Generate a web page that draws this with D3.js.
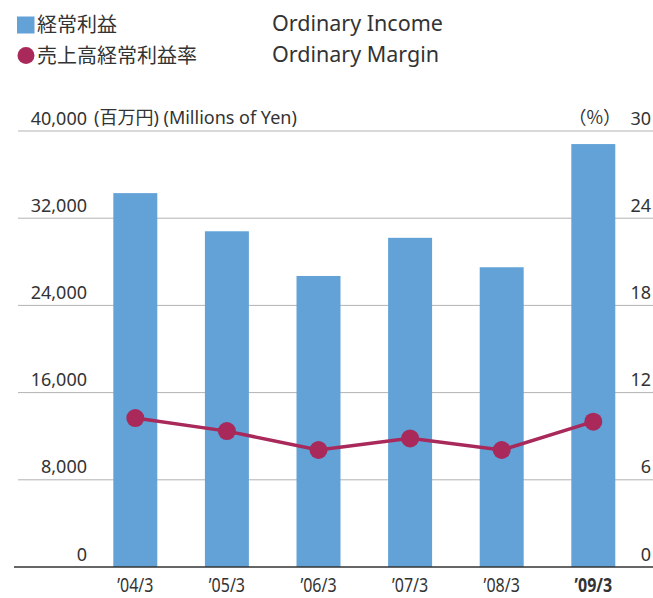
<!DOCTYPE html>
<html>
<head>
<meta charset="utf-8">
<script src="https://cdn.jsdelivr.net/npm/d3@7"></script>
<style>
  html, body { margin: 0; padding: 0; background: #fff; }
  svg { display: block; font-family: "Noto Sans", "Noto Sans CJK JP", sans-serif; }
</style>
</head>
<body>
<div id="chart"></div>
<script>
const years = ['’04/3', '’05/3', '’06/3', '’07/3', '’08/3', '’09/3'];
const incomeValues = [34300, 30800, 26700, 30200, 27500, 38800];
const marginValues = [10.25, 9.35, 8.05, 8.85, 8.05, 10.0];
const leftTicks = [0, 8000, 16000, 24000, 32000, 40000];
const rightTicks = [0, 6, 12, 18, 24, 30];

const width = 653;
const height = 598;
const barColor = '#62a2d7';
const lineColor = '#a8295a';
const textColor = '#333';

const svg = d3.select('#chart').append('svg')
  .attr('width', width)
  .attr('height', height);

const x = d3.scaleBand()
  .domain(years)
  .range([89.5, 639.1])
  .paddingInner(0.52)
  .paddingOuter(0.26);

const y = d3.scaleLinear().domain([0, 40000]).range([567, 131]);
const yPct = d3.scaleLinear().domain([0, 30]).range([567, 131]);

// gridlines
svg.append('g')
  .selectAll('line')
  .data(leftTicks.filter(d => d > 0))
  .join('line')
  .attr('x1', 18)
  .attr('x2', width)
  .attr('y1', d => y(d))
  .attr('y2', d => y(d))
  .attr('stroke', '#b3b3b3')
  .attr('stroke-width', 1);

// bars
svg.append('g')
  .attr('fill', barColor)
  .selectAll('rect')
  .data(incomeValues)
  .join('rect')
  .attr('x', (d, i) => x(years[i]))
  .attr('y', d => y(d))
  .attr('width', x.bandwidth())
  .attr('height', d => y(0) - y(d));

// baseline
svg.append('line')
  .attr('x1', 14)
  .attr('x2', width)
  .attr('y1', y(0))
  .attr('y2', y(0))
  .attr('stroke', '#333')
  .attr('stroke-width', 1.5);

// left axis labels
const leftAxis = svg.append('g')
  .attr('transform', 'translate(87,0)')
  .call(d3.axisLeft(y).tickValues(leftTicks).tickSize(0).tickPadding(0)
    .tickFormat(d3.format(',')));
leftAxis.select('.domain').remove();
leftAxis.selectAll('text')
  .attr('dy', -7)
  .attr('fill', textColor)
  .style('font-size', '18px')
  .style('font-family', '"Noto Sans", sans-serif');

// right axis labels
const rightAxis = svg.append('g')
  .attr('transform', 'translate(651,0)')
  .call(d3.axisLeft(yPct).tickValues(rightTicks).tickSize(0).tickPadding(0));
rightAxis.select('.domain').remove();
rightAxis.selectAll('text')
  .attr('dy', -7)
  .attr('fill', textColor)
  .style('font-size', '18px')
  .style('font-family', '"Noto Sans", sans-serif');

// unit labels
svg.append('text')
  .attr('x', 94)
  .attr('y', y(40000) - 7)
  .attr('fill', textColor)
  .style('font-size', '18px')
  .text('(百万円) (Millions of Yen)');

svg.append('text')
  .attr('x', 621)
  .attr('y', yPct(30) - 7)
  .attr('text-anchor', 'end')
  .attr('fill', textColor)
  .style('font-size', '18px')
  .style('font-family', '"Noto Sans CJK JP", sans-serif')
  .text('（%）');

// x labels (condensed)
svg.append('g')
  .selectAll('text')
  .data(years)
  .join('text')
  .attr('transform', d => `translate(${x(d) + x.bandwidth() / 2},592) scale(0.8,1)`)
  .attr('text-anchor', 'middle')
  .attr('fill', textColor)
  .style('font-size', '20px')
  .style('font-weight', (d, i) => i === years.length - 1 ? 'bold' : 'normal')
  .text(d => d);

// margin line
const line = d3.line()
  .x((d, i) => x(years[i]) + x.bandwidth() / 2)
  .y(d => yPct(d));

svg.append('path')
  .datum(marginValues)
  .attr('fill', 'none')
  .attr('stroke', lineColor)
  .attr('stroke-width', 3.5)
  .attr('d', line);

svg.append('g')
  .attr('fill', lineColor)
  .selectAll('circle')
  .data(marginValues)
  .join('circle')
  .attr('cx', (d, i) => x(years[i]) + x.bandwidth() / 2)
  .attr('cy', d => yPct(d))
  .attr('r', 9);

// legend
const legend = svg.append('g');
legend.append('rect')
  .attr('x', 17).attr('y', 16.5)
  .attr('width', 17.5).attr('height', 17)
  .attr('fill', barColor);
legend.append('circle')
  .attr('cx', 26).attr('cy', 55.5).attr('r', 8.5)
  .attr('fill', lineColor);
legend.append('text')
  .attr('x', 37).attr('y', 32)
  .attr('fill', textColor)
  .style('font-size', '20px')
  .text('経常利益');
legend.append('text')
  .attr('x', 37).attr('y', 63)
  .attr('fill', textColor)
  .style('font-size', '20px')
  .text('売上高経常利益率');
legend.append('text')
  .attr('x', 272).attr('y', 31)
  .attr('fill', textColor)
  .style('font-size', '21.5px')
  .text('Ordinary Income');
legend.append('text')
  .attr('x', 272).attr('y', 62)
  .attr('fill', textColor)
  .style('font-size', '21.5px')
  .text('Ordinary Margin');
</script>
</body>
</html>
